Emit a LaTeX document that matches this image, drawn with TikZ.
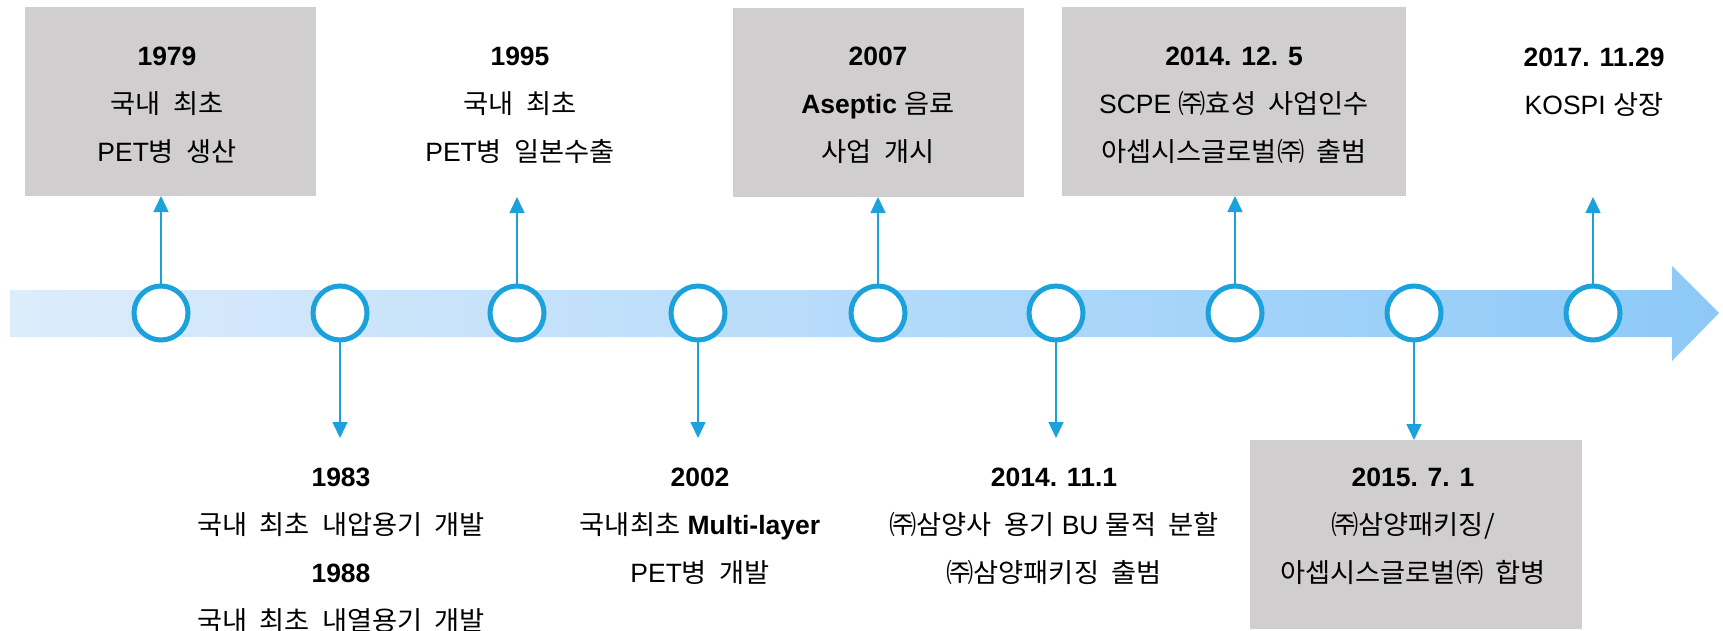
\documentclass[tikz,border=0pt]{standalone}
\usepackage{fontspec}
\setmainfont{Liberation Sans}
\newfontfamily\krfont[WordSpace=2,FakeStretch=1.03]{Noto Sans CJK KR}
\newcommand{\kr}[1]{{\krfont #1}}
\usetikzlibrary{arrows.meta}
\definecolor{boxgray}{RGB}{208,206,207}
\definecolor{tlblue}{RGB}{27,161,219}
\definecolor{bandL}{RGB}{221,236,251}
\definecolor{bandR}{RGB}{141,201,248}

\begin{document}
\begin{tikzpicture}[x=1pt,y=-1pt,
  dot/.style={circle,draw=tlblue,line width=5pt,fill=white,minimum size=54pt,inner sep=0pt,outer sep=0pt},
  grayb/.style={fill=boxgray,inner sep=0pt,outer sep=0pt},
  conn/.style={draw=tlblue,line width=1.5pt,-{Triangle[width=15pt,length=16pt]}},
  evt/.style={align=center,inner sep=0pt,font=\fontsize{26.5}{48}\selectfont}]
\useasboundingbox (0,0) rectangle (1723,631);

\shade[left color=bandL,right color=bandR] (10,290) -- (1672,290) -- (1672,266) -- (1719,313)
  -- (1672,361) -- (1672,337) -- (10,337) -- cycle;

\node[grayb,minimum width=291pt,minimum height=189pt] (box1979) at (170.5,101.5) {};
\node[grayb,minimum width=291pt,minimum height=189pt] (box2007) at (878.5,102.5) {};
\node[grayb,minimum width=344pt,minimum height=189pt] (box2014) at (1234,101.5) {};
\node[grayb,minimum width=332pt,minimum height=189pt] (box2015) at (1416,534.5) {};

\node[dot] (c1) at (161,313) {};
\node[dot] (c2) at (340,313) {};
\node[dot] (c3) at (517,313) {};
\node[dot] (c4) at (698,313) {};
\node[dot] (c5) at (878,313) {};
\node[dot] (c6) at (1056,313) {};
\node[dot] (c7) at (1235,313) {};
\node[dot] (c8) at (1414,313) {};
\node[dot] (c9) at (1593,313) {};

\coordinate (e1995) at (517,197);
\coordinate (e2017) at (1593,197);
\coordinate (e1983) at (340,438);
\coordinate (e2002) at (698,438);
\coordinate (e2014) at (1056,438);

\draw[conn] (c1.north) -- (c1.north |- box1979.south);
\draw[conn] (c3.north) -- (e1995);
\draw[conn] (c5.north) -- (c5.north |- box2007.south);
\draw[conn] (c7.north) -- (c7.north |- box2014.south);
\draw[conn] (c9.north) -- (e2017);
\draw[conn] (c2.south) -- (e1983);
\draw[conn] (c4.south) -- (e2002);
\draw[conn] (c6.south) -- (e2014);
\draw[conn] (c8.south) -- (c8.south |- box2015.north);

\node[evt] (t1979) at (167,105) {\textbf{1979}\\\kr{국내 최초}\\PET\kr{병 생산}};
\node[evt] (t1995) at (520,105) {\textbf{1995}\\\kr{국내 최초}\\PET\kr{병 일본수출}};
\node[evt] (t2007) at (878,105) {\textbf{2007}\\\textbf{Aseptic} \kr{음료}\\\kr{사업 개시}};
\node[evt] (t20141205) at (1234,105) {\textbf{2014. 12. 5}\\SCPE \kr{㈜효성 사업인수}\\\kr{아셉시스글로벌㈜ 출범}};
\node[evt] (t2017) at (1594,82) {\textbf{2017. 11.29}\\KOSPI \kr{상장}};

\node[evt] (t1983) at (341,550.5) {\textbf{1983}\\\kr{국내 최초 내압용기 개발}\\\textbf{1988}\\\kr{국내 최초 내열용기 개발}};
\node[evt] (t2002) at (700,526.5) {\textbf{2002}\\\kr{국내최초} \textbf{Multi-layer}\\PET\kr{병 개발}};
\node[evt] (t20141101) at (1054,526.5) {\textbf{2014. 11.1}\\\kr{㈜삼양사 용기} BU \kr{물적 분할}\\\kr{㈜삼양패키징 출범}};
\node[evt] (t2015) at (1413,526.5) {\textbf{2015. 7. 1}\\\kr{㈜삼양패키징/}\\\kr{아셉시스글로벌㈜ 합병}};
\end{tikzpicture}
\end{document}
